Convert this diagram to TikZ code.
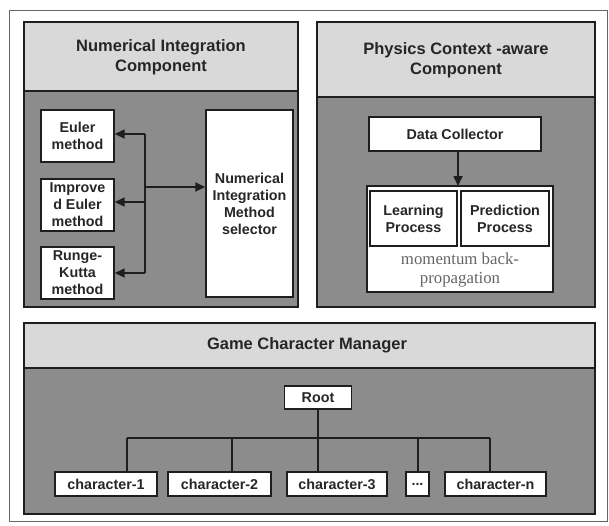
\documentclass[tikz,border=0pt]{standalone}
\usepackage{fontspec}
\setmainfont{Liberation Sans}
\newfontfamily\serifface{Liberation Serif}
\usetikzlibrary{arrows.meta}
\definecolor{hdr}{HTML}{D9D9D9}
\definecolor{bodygray}{HTML}{8C8C8C}
\definecolor{ink}{HTML}{1E1E1E}
\definecolor{txt}{HTML}{262626}
\tikzset{
  panelbody/.style={draw=ink, line width=1.6pt, fill=bodygray},
  panelhead/.style={draw=ink, line width=1.6pt, fill=hdr},
  headtext/.style={font=\fontsize{16.5}{20}\selectfont\bfseries, text=txt, align=center},
  wbox/.style={draw=ink, line width=1.4pt, fill=white, inner sep=0pt,
    font=\fontsize{14.3}{17}\selectfont\bfseries, text=txt, align=center},
  conn/.style={draw=ink, line width=1.7pt},
  arr/.style={conn, -{Triangle[length=10pt,width=9pt]}},
}
\begin{document}
\begin{tikzpicture}[x=1pt,y=-1pt]
\useasboundingbox (0,0) rectangle (609,525);
\fill[white] (0,0) rectangle (609,525);
\draw[line width=1pt, draw=gray!80!black] (9,10) rectangle (607,521);

% ---------- top-left panel ----------
\draw[panelbody] (24,22) rectangle (298,307);
\draw[panelhead] (24,22) rectangle (298,91);
\node[headtext] (hl) at (161,57) {Numerical Integration\\Component};

\node[wbox, minimum width=73pt, minimum height=52pt] (euler) at (77.5,136) {Euler\\method};
\node[wbox, minimum width=73pt, minimum height=52pt] (impr) at (77.5,205) {Improve\\d Euler\\method};
\node[wbox, minimum width=73pt, minimum height=52pt] (rk) at (77.5,273) {Runge-\\Kutta\\method};
\node[wbox, minimum width=87pt, minimum height=187pt] (sel) at (249.5,203.5) {Numerical\\Integration\\Method\\selector};

\coordinate (bt) at (145,134);
\coordinate (bm) at (145,202);
\coordinate (bb) at (145,273);
\coordinate (bj) at (145,187);
\draw[conn] (bt) -- (bb);
\draw[arr] (bt) -- (euler.east |- bt);
\draw[arr] (bm) -- (impr.east |- bm);
\draw[arr] (bb) -- (rk.east |- bb);
\draw[arr] (bj) -- (sel.west |- bj);

% ---------- top-right panel ----------
\draw[panelbody] (317,22) rectangle (595,307);
\draw[panelhead] (317,22) rectangle (595,97);
\node[headtext] (hr) at (456,60) {Physics Context -aware\\Component};

\node[wbox, minimum width=172pt, minimum height=34pt] (dc) at (455,134) {Data Collector};
\node[draw=ink, line width=1.4pt, fill=white, minimum width=186pt, minimum height=106pt, inner sep=0pt] (grp) at (460,239) {};
\node[wbox, minimum width=87pt, minimum height=55pt] (learn) at (413.5,218.5) {Learning\\Process};
\node[wbox, minimum width=88pt, minimum height=55pt] (pred) at (505,218.5) {Prediction\\Process};
\node[font=\fontsize{16.8}{19}\selectfont\serifface, text=black!60, align=center] (mom) at (460,269.5) {momentum back-\\propagation};
\draw[arr] (dc.south -| 458,0) -- (458,186);

% ---------- bottom panel ----------
\draw[panelbody] (24,323) rectangle (595,514);
\draw[panelhead] (24,323) rectangle (595,368);
\node[headtext] (hb) at (307,345) {Game Character Manager};

\node[wbox, minimum width=67pt, minimum height=23pt] (root) at (318,397.5) {Root};
\node[wbox, minimum width=102pt, minimum height=24pt] (c1) at (106,484) {character-1};
\node[wbox, minimum width=103pt, minimum height=24pt] (c2) at (219.5,484) {character-2};
\node[wbox, minimum width=100pt, minimum height=24pt] (c3) at (337,484) {character-3};
\node[wbox, minimum width=23pt, minimum height=24pt] (cd) at (417.5,484) {...};
\node[wbox, minimum width=101pt, minimum height=24pt] (cn) at (495.5,484) {character-n};

\coordinate (b1) at (127,438);
\coordinate (b2) at (232,438);
\coordinate (b3) at (318,438);
\coordinate (b4) at (418,438);
\coordinate (b5) at (490,438);
\draw[conn] (root.south) -- (b3);
\draw[conn] (b1) -- (b5);
\draw[conn] (b1) -- (b1 |- c1.north);
\draw[conn] (b2) -- (b2 |- c2.north);
\draw[conn] (b3) -- (b3 |- c3.north);
\draw[conn] (b4) -- (b4 |- cd.north);
\draw[conn] (b5) -- (b5 |- cn.north);
\end{tikzpicture}
\end{document}
